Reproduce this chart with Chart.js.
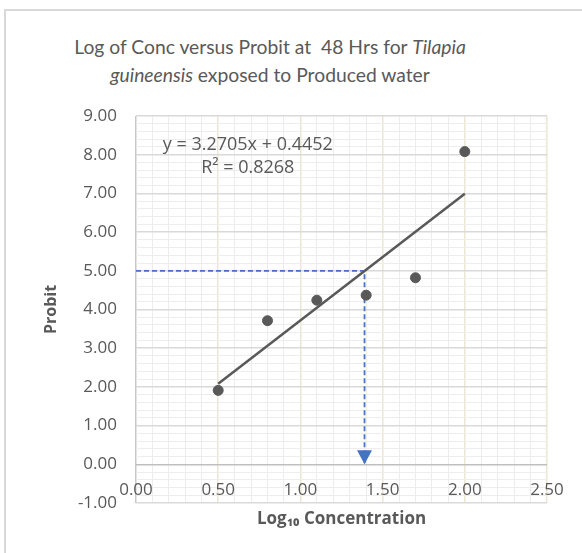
<!DOCTYPE html>
<html>
<head>
<meta charset="utf-8">
<script src="https://cdn.jsdelivr.net/npm/chart.js@4.4.1/dist/chart.umd.min.js"></script>
<style>
  body { margin: 0; background: #fff; width: 582px; height: 553px; overflow: hidden; position: relative; font-family: Lato, "Open Sans", sans-serif; }
  #frame { position: absolute; left: 4px; top: 9px; width: 620px; height: 600px; border: 2px solid #d9d9d9; }
  #title { position: absolute; left: 0; top: 33px; width: 540px; text-align: center; font-size: 19.3px; line-height: 28px; color: #595959; }
  #chart { position: absolute; left: 0; top: 0; }
</style>
</head>
<body>
<div id="frame"></div>
<div id="title">Log of Conc versus Probit at &nbsp;48 Hrs for <i>Tilapia</i><br><i>guineensis</i> exposed to Produced water</div>
<canvas id="chart" width="582" height="553"></canvas>
<script>
// values
const logConc = [0.50, 0.80, 1.10, 1.40, 1.70, 2.00];
const probit = [1.91, 3.71, 4.24, 4.37, 4.82, 8.08];

// linear trendline (y = 3.2705x + 0.4452) end points
const trendX = [0.50, 2.00];
const trendY = [2.08, 6.99];

// blue LC50 guide: across at probit 5, then down to the x axis
const guideX = [0.00, 1.39, 1.39];
const guideY = [5.00, 5.00, 0.00];

const xMajor = [0.0, 0.5, 1.0, 1.5, 2.0, 2.5];
const yMajor = [-1, 0, 1, 2, 3, 4, 5, 6, 7, 8, 9];
const eqLines = ['y = 3.2705x + 0.4452', 'R\u00b2 = 0.8268'];

const TEXT = '#595959';
const FONT = '"Open Sans", Lato, sans-serif';
const isMajor = (list, v) => list.some(m => Math.abs(m - v) < 1e-6);
const toPoints = (xs, ys) => xs.map((x, i) => ({ x: x, y: ys[i] }));

// equation label, placed in data coordinates
const eqLabel = {
    id: 'eqLabel',
    afterDatasetsDraw(chart) {
        const { ctx, scales } = chart;
        const x = scales.x.getPixelForValue(0.68);
        ctx.save();
        ctx.fillStyle = TEXT;
        ctx.font = '18px ' + FONT;
        ctx.textAlign = 'center';
        ctx.textBaseline = 'middle';
        ctx.fillText(eqLines[0], x, scales.y.getPixelForValue(8.25));
        ctx.fillText(eqLines[1], x, scales.y.getPixelForValue(7.65));
        ctx.restore();
    }
};

// arrow head at the end of the guide line
const arrowHead = {
    id: 'arrowHead',
    afterDatasetsDraw(chart) {
        const { ctx, scales } = chart;
        const tipX = scales.x.getPixelForValue(guideX[guideX.length - 1]);
        const tipY = scales.y.getPixelForValue(guideY[guideY.length - 1]);
        ctx.save();
        ctx.fillStyle = '#4472c4';
        ctx.beginPath();
        ctx.moveTo(tipX, tipY);
        ctx.lineTo(tipX - 7.5, tipY - 14);
        ctx.lineTo(tipX + 7.5, tipY - 14);
        ctx.closePath();
        ctx.fill();
        ctx.restore();
    }
};

new Chart(document.getElementById('chart'), {
    type: 'scatter',
    data: {
        datasets: [
            {
                label: 'Probit',
                data: toPoints(logConc, probit),
                backgroundColor: TEXT,
                borderColor: TEXT,
                pointRadius: 5,
                pointHoverRadius: 5
            },
            {
                label: 'Trend',
                data: toPoints(trendX, trendY),
                showLine: true,
                borderColor: TEXT,
                borderWidth: 2.5,
                pointRadius: 0
            },
            {
                label: 'LC50',
                data: toPoints(guideX, guideY),
                showLine: true,
                borderColor: '#4472c4',
                borderWidth: 1.75,
                borderDash: [5, 3],
                pointRadius: 0
            }
        ]
    },
    options: {
        responsive: false,
        animation: false,
        // the x axis sits at y = 0, so the bottom room is kept by padding
        layout: { padding: { left: 6, right: 35, top: 116, bottom: 50 } },
        plugins: {
            legend: { display: false },
            tooltip: { enabled: false }
        },
        scales: {
            x: {
                type: 'linear',
                position: { y: 0 },
                min: 0,
                max: 2.5,
                afterFit: (scale) => { scale.height = 50; },
                border: { display: false },
                grid: {
                    drawTicks: false,
                    lineWidth: (c) => (c.tick && isMajor(xMajor, c.tick.value)) ? 1.5 : 1,
                    color: (c) => {
                        const v = c.tick ? c.tick.value : 0;
                        if (Math.abs(v) < 1e-6) return '#c8c8c8';
                        return isMajor(xMajor, v) ? '#ece6d2' : '#ededed';
                    }
                },
                ticks: {
                    stepSize: 0.1,
                    autoSkip: false,
                    maxRotation: 0,
                    padding: 16,
                    color: TEXT,
                    font: { family: FONT, size: 17 },
                    callback: (v) => isMajor(xMajor, v) ? Number(v).toFixed(2) : ''
                },
                title: {
                    display: true,
                    text: 'Log\u2081\u2080 Concentration',
                    color: TEXT,
                    font: { family: FONT, size: 17, weight: 'bold' },
                    padding: { top: 0, bottom: -15 }
                }
            },
            y: {
                type: 'linear',
                min: -1,
                max: 9,
                afterFit: (scale) => { scale.width = 130; },
                border: { display: false },
                grid: {
                    drawTicks: false,
                    lineWidth: (c) => (c.tick && isMajor(yMajor, c.tick.value)) ? 1.5 : 1,
                    color: (c) => {
                        const v = c.tick ? c.tick.value : 0;
                        if (Math.abs(v) < 1e-6) return '#bfbfbf';
                        return isMajor(yMajor, v) ? '#d9d9d9' : '#ededed';
                    }
                },
                ticks: {
                    stepSize: 0.2,
                    autoSkip: false,
                    padding: 19,
                    color: TEXT,
                    font: { family: FONT, size: 17 },
                    callback: (v) => isMajor(yMajor, v) ? Number(v).toFixed(2) : ''
                },
                title: {
                    display: true,
                    text: 'Probit',
                    color: TEXT,
                    font: { family: FONT, size: 16, weight: 'bold' },
                    padding: { top: 36, bottom: 0 }
                }
            }
        }
    },
    plugins: [eqLabel, arrowHead]
});
</script>
</body>
</html>
